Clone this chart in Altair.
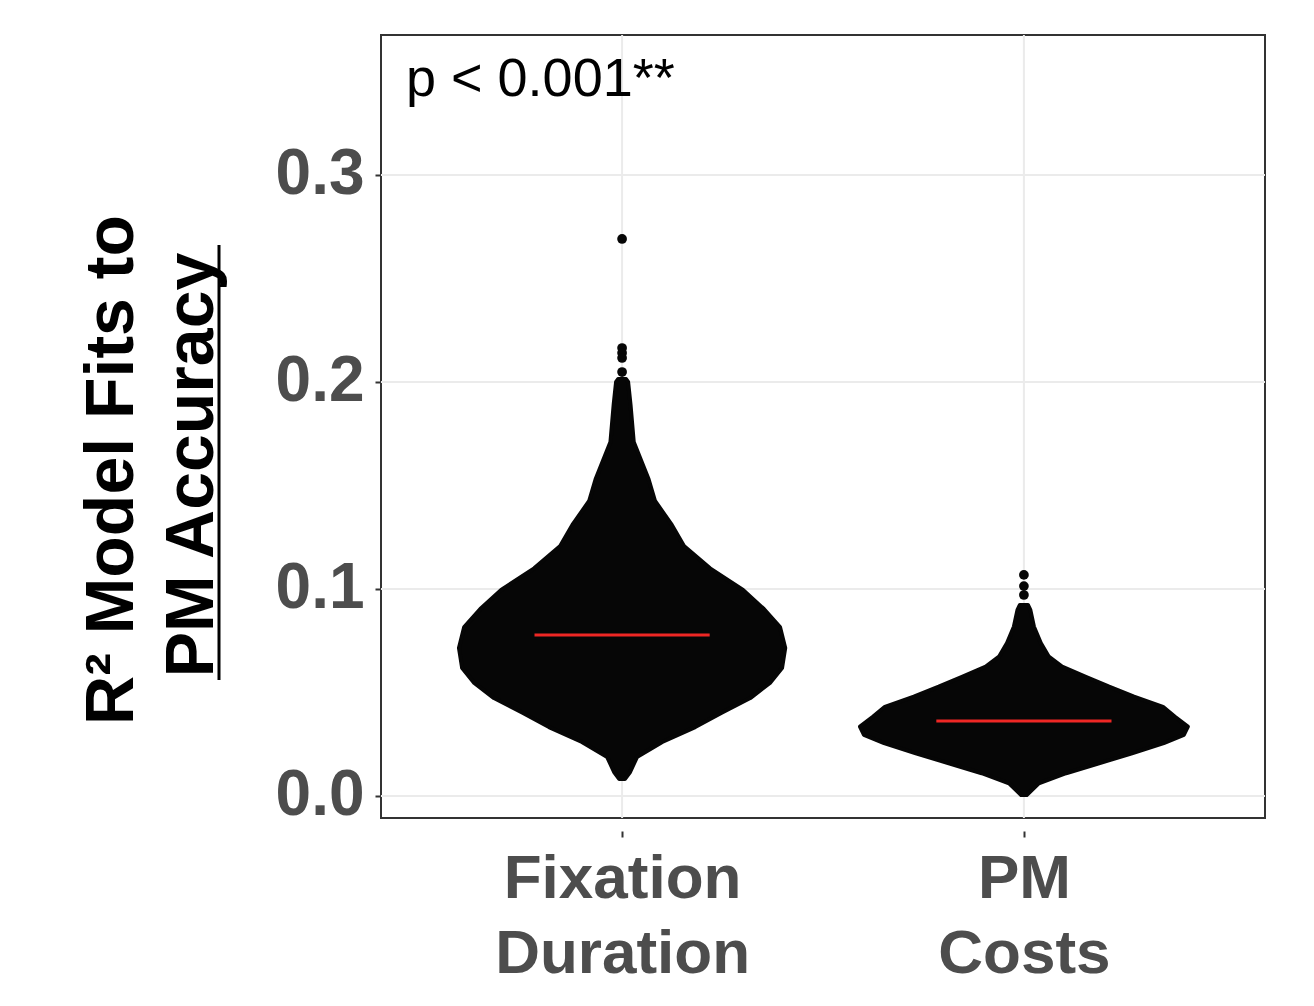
import altair as alt
import pandas as pd

# ---------------- data ----------------
categories = ["Fixation Duration", "PM Costs"]
category_lines = [["Fixation", "Duration"], ["PM", "Costs"]]
medians = [0.0778, 0.0362]

# outline of the dot swarm: R² level and half-width (in category units)
fix_levels = [0.2014, 0.2000, 0.189, 0.171, 0.153, 0.1425, 0.1315, 0.1208, 0.110,
              0.0995, 0.0903, 0.0816, 0.0715, 0.0618, 0.0546, 0.0473, 0.0403,
              0.0333, 0.0261, 0.0188, 0.0116, 0.0082]
fix_halfwidth = [0.010, 0.015, 0.021, 0.029, 0.066, 0.082, 0.122, 0.154, 0.219,
                 0.301, 0.353, 0.393, 0.406, 0.398, 0.368, 0.319, 0.249,
                 0.182, 0.100, 0.037, 0.020, 0.007]
pm_levels = [0.0923, 0.0899, 0.0818, 0.0739, 0.0673, 0.0625, 0.0576, 0.0528, 0.048,
             0.0431, 0.0383, 0.0335, 0.0295, 0.0255, 0.0206, 0.0158, 0.011,
             0.0061, 0.0005]
pm_halfwidth = [0.010, 0.016, 0.025, 0.042, 0.062, 0.095, 0.154, 0.212, 0.274,
                0.346, 0.376, 0.408, 0.398, 0.348, 0.269, 0.187, 0.105,
                0.037, 0.007]
fix_outliers = [0.2691, 0.2164, 0.2140, 0.2116, 0.2048]
pm_outliers = [0.1068, 0.1014, 0.0971]

y_ticks = [0.0, 0.1, 0.2, 0.3]
p_label = "p < 0.001**"
y_title_lines = ["R² Model Fits to", "PM Accuracy"]

# ---------------- tables ----------------
# closed outline: down the left side, then up the right side
rows = []
for gi, (levels, hws) in enumerate([(fix_levels, fix_halfwidth), (pm_levels, pm_halfwidth)]):
    pos = gi + 1
    pairs = sorted(zip(levels, hws), reverse=True)  # top -> bottom
    k = 0
    for lv, hw in pairs:
        rows.append({"group": categories[gi], "idx": k, "y": lv, "x": pos - hw})
        k += 1
    for lv, hw in reversed(pairs):
        rows.append({"group": categories[gi], "idx": k, "y": lv, "x": pos + hw})
        k += 1
violin_df = pd.DataFrame(rows)

out_rows = []
for gi, outs in enumerate([fix_outliers, pm_outliers]):
    for v in outs:
        out_rows.append({"group": categories[gi], "pos": gi + 1, "y": v})
out_df = pd.DataFrame(out_rows)

MED_HALF = 0.218
med_df = pd.DataFrame({"group": categories, "y": medians,
                       "x1": [i + 1 - MED_HALF for i in range(len(categories))],
                       "x2": [i + 1 + MED_HALF for i in range(len(categories))]})
vgrid_df = pd.DataFrame({"pos": [i + 1 for i in range(len(categories))]})
hgrid_df = pd.DataFrame({"y": y_ticks})

FONT = "Liberation Sans"
label_expr = " : ".join(
    [f"datum.value == {i + 1} ? {lines!r}" for i, lines in enumerate(category_lines[:-1])]
    + [repr(category_lines[-1])]
)

xscale = alt.Scale(domain=[0.4, 2.6], nice=False, zero=False)
yscale = alt.Scale(domain=[-0.01063, 0.36763], nice=False, zero=False)

x_axis = alt.Axis(values=[1, 2], labelExpr=label_expr, title=None, grid=False, domain=False,
                  labelFont=FONT, labelFontSize=62, labelFontWeight="bold", labelColor="#4D4D4D",
                  labelLineHeight=75, labelPadding=11, labelLimit=1000, tickSize=6, tickWidth=2,
                  tickColor="#333333", offset=13)
y_axis = alt.Axis(values=y_ticks, format=".1f", title=None, grid=False, domain=False,
                  labelFont=FONT, labelFontSize=64, labelFontWeight="bold", labelColor="#4D4D4D",
                  labelPadding=11, labelLimit=1000, tickSize=6, tickWidth=2, tickColor="#333333")

vgrid = alt.Chart(vgrid_df).mark_rule(color="#EBEBEB", strokeWidth=2).encode(
    x=alt.X("pos:Q", scale=xscale, axis=x_axis))
hgrid = alt.Chart(hgrid_df).mark_rule(color="#EBEBEB", strokeWidth=2).encode(
    y=alt.Y("y:Q", scale=yscale, axis=y_axis))

violin = alt.Chart(violin_df).mark_line(
    fill="#060606", stroke="#060606", strokeWidth=4, interpolate="linear-closed",
    strokeJoin="round").encode(
    x=alt.X("x:Q", scale=xscale, axis=x_axis),
    y=alt.Y("y:Q", scale=yscale, axis=y_axis),
    detail="group:N",
    order="idx:Q",
)

dots = alt.Chart(out_df).mark_circle(size=95, color="#060606", opacity=1).encode(
    x=alt.X("pos:Q", scale=xscale, axis=x_axis),
    y=alt.Y("y:Q", scale=yscale, axis=y_axis),
)

med = alt.Chart(med_df).mark_rule(color="#EE2724", strokeWidth=3).encode(
    x=alt.X("x1:Q", scale=xscale, axis=x_axis), x2="x2:Q",
    y=alt.Y("y:Q", scale=yscale, axis=y_axis),
)

ptext = alt.Chart(pd.DataFrame({"t": [p_label]})).mark_text(
    font=FONT, fontSize=54, color="black", align="left", baseline="alphabetic").encode(
    x=alt.value(25), y=alt.value(61), text="t:N")

title1 = alt.Chart(pd.DataFrame({"t": [y_title_lines[0]]})).mark_text(
    font=FONT, fontSize=68, fontWeight="bold", color="black", align="center",
    baseline="alphabetic", angle=270).encode(
    x=alt.value(-248), y=alt.value(435), text="t:N")
title2 = alt.Chart(pd.DataFrame({"t": [y_title_lines[1]]})).mark_text(
    font=FONT, fontSize=68, fontWeight="bold", color="black", align="center",
    baseline="alphabetic", angle=270).encode(
    x=alt.value(-168), y=alt.value(430), text="t:N")
underline = alt.Chart(pd.DataFrame({"t": [y_title_lines[1]]})).mark_rule(
    color="black", strokeWidth=3).encode(
    x=alt.value(-162), y=alt.value(210), y2=alt.value(645))

chart = alt.layer(vgrid, hgrid, violin, dots, med, ptext, title1, title2, underline).properties(
    width=884, height=783,
    background="white",
    autosize=alt.AutoSizeParams(type="none"),
    padding={"left": 373, "top": 27, "right": 40, "bottom": 170},
).configure_view(stroke="#333333", strokeWidth=2)

chart.save("out.html", embed_options={"renderer": "svg", "actions": False})
